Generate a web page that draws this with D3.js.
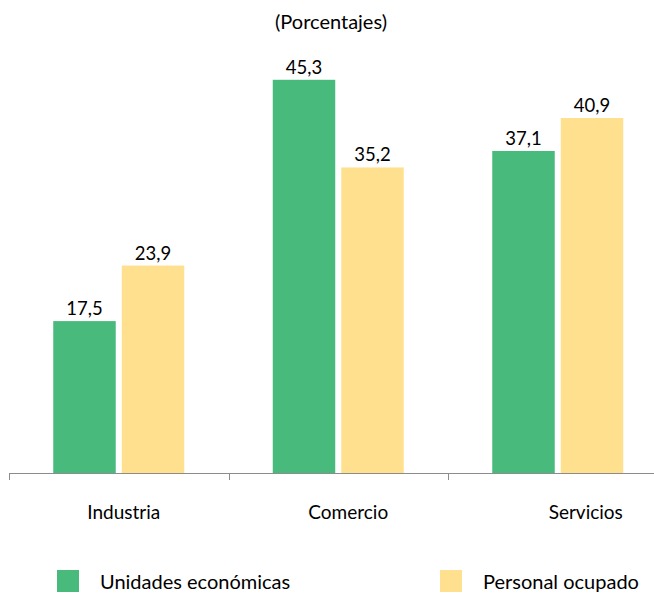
<!DOCTYPE html>
<html><head><meta charset="utf-8">
<script src="https://cdn.jsdelivr.net/npm/d3@7"></script>
<style>body{margin:0;background:#fff}svg{display:block}</style>
</head><body>
<script>
const categories = ["Industria", "Comercio", "Servicios"];
const seriesNames = ["Unidades económicas", "Personal ocupado"];
const unidades = [17.5, 45.3, 37.1];
const personal = [23.9, 35.2, 40.9];
const title = "(Porcentajes)";

const W = 654, H = 595;
const colors = ["#47BA7C", "#FFE08F"];
const font = "Lato, 'Open Sans', sans-serif";

const svg = d3.select("body").append("svg").attr("width", W).attr("height", H);

const x = d3.scaleBand().domain(categories).range([9, 667.5]).paddingInner(0).paddingOuter(0);
const y = d3.scaleLinear().domain([0, 50]).range([473, 39]);
const groupW = 131;
const inner = d3.scaleBand().domain([0, 1]).range([0, groupW]).paddingInner(0.088);

svg.append("text").attr("x", 331).attr("y", 29).attr("text-anchor", "middle")
  .attr("font-family", font).attr("font-size", 20).attr("fill", "#000").text(title);

const series = [unidades, personal];
categories.forEach((c, i) => {
  const g0 = x(c) + (x.bandwidth() - groupW) / 2;
  series.forEach((vals, s) => {
    const v = vals[i];
    svg.append("rect").attr("x", g0 + inner(s)).attr("y", y(v))
      .attr("width", inner.bandwidth()).attr("height", y(0) - y(v)).attr("fill", colors[s]);
    svg.append("text").attr("x", g0 + inner(s) + inner.bandwidth() / 2).attr("y", y(v) - 6)
      .attr("text-anchor", "middle").attr("font-family", font).attr("font-size", 18.5)
      .attr("fill", "#000").text(d3.format(".1f")(v).replace(".", ","));
  });
});

// axis
const axis = svg.append("g");
axis.append("line").attr("x1", 9).attr("x2", W).attr("y1", 473.5).attr("y2", 473.5)
  .attr("stroke", "#8c8c8c").attr("stroke-width", 1);
categories.forEach(c => {
  axis.append("line").attr("x1", Math.round(x(c)) + 0.5).attr("x2", Math.round(x(c)) + 0.5)
    .attr("y1", 473).attr("y2", 480).attr("stroke", "#8c8c8c");
});
const labelShift = [5, 10, 28];
categories.forEach((c, i) => {
  axis.append("text").attr("x", x(c) + x.bandwidth() / 2 + labelShift[i]).attr("y", 519)
    .attr("text-anchor", "middle").attr("font-family", font).attr("font-size", 19)
    .attr("fill", "#000").text(c);
});

// legend
const legendX = [57, 440];
seriesNames.forEach((n, s) => {
  svg.append("rect").attr("x", legendX[s]).attr("y", 570).attr("width", 22).attr("height", 22).attr("fill", colors[s]);
  svg.append("text").attr("x", legendX[s] + 43).attr("y", 589).attr("font-family", font)
    .attr("font-size", 20).attr("fill", "#000").text(n);
});
</script>
</body></html>
